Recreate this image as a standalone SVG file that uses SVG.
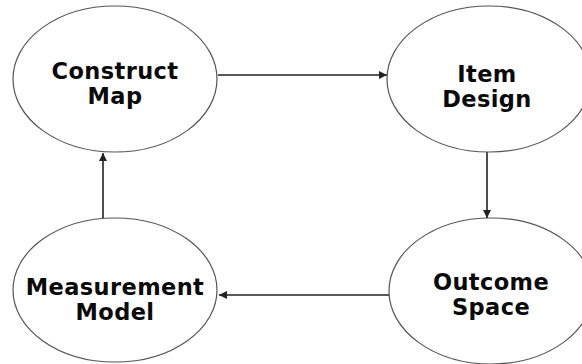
<svg xmlns="http://www.w3.org/2000/svg" width="582" height="364" viewBox="0 0 582 364">
  <style>
    .node ellipse { fill: #ffffff; stroke: #555555; stroke-width: 1.2; }
    .node text { font-family: "DejaVu Sans", Verdana, sans-serif; font-weight: bold; font-size: 22.5px; letter-spacing: 0.4px; fill: #0a0a0a; text-anchor: middle; }
    .edge { stroke: #222222; stroke-width: 1.6; fill: none; marker-end: url(#arrow); }
  </style>
  <defs>
    <marker id="arrow" viewBox="0 0 8 8" refX="8" refY="4" markerWidth="5" markerHeight="5" markerUnits="strokeWidth" orient="auto">
      <path d="M0,0 L8,4 L0,8 z" fill="#222222"/>
    </marker>
  </defs>
  <rect width="582" height="364" fill="#ffffff"/>

  <g id="connectors">
    <line class="edge" x1="218" y1="75" x2="387" y2="75"/>
    <line class="edge" x1="487" y1="152" x2="487" y2="218"/>
    <line class="edge" x1="389" y1="295" x2="219" y2="295"/>
    <line class="edge" x1="103" y1="218" x2="103" y2="153"/>
  </g>

  <g id="construct-map" class="node">
    <ellipse cx="115" cy="79" rx="102" ry="73"/>
    <text x="115" y="79">Construct</text>
    <text x="115" y="104">Map</text>
  </g>

  <g id="item-design" class="node">
    <ellipse cx="489" cy="79" rx="102" ry="73"/>
    <text x="487" y="82">Item</text>
    <text x="487" y="107">Design</text>
  </g>

  <g id="outcome-space" class="node">
    <ellipse cx="491" cy="291" rx="102" ry="73"/>
    <text x="491" y="290">Outcome</text>
    <text x="491" y="315">Space</text>
  </g>

  <g id="measurement-model" class="node">
    <ellipse cx="115" cy="290" rx="102" ry="72"/>
    <text x="115" y="295">Measurement</text>
    <text x="115" y="320">Model</text>
  </g>
</svg>
